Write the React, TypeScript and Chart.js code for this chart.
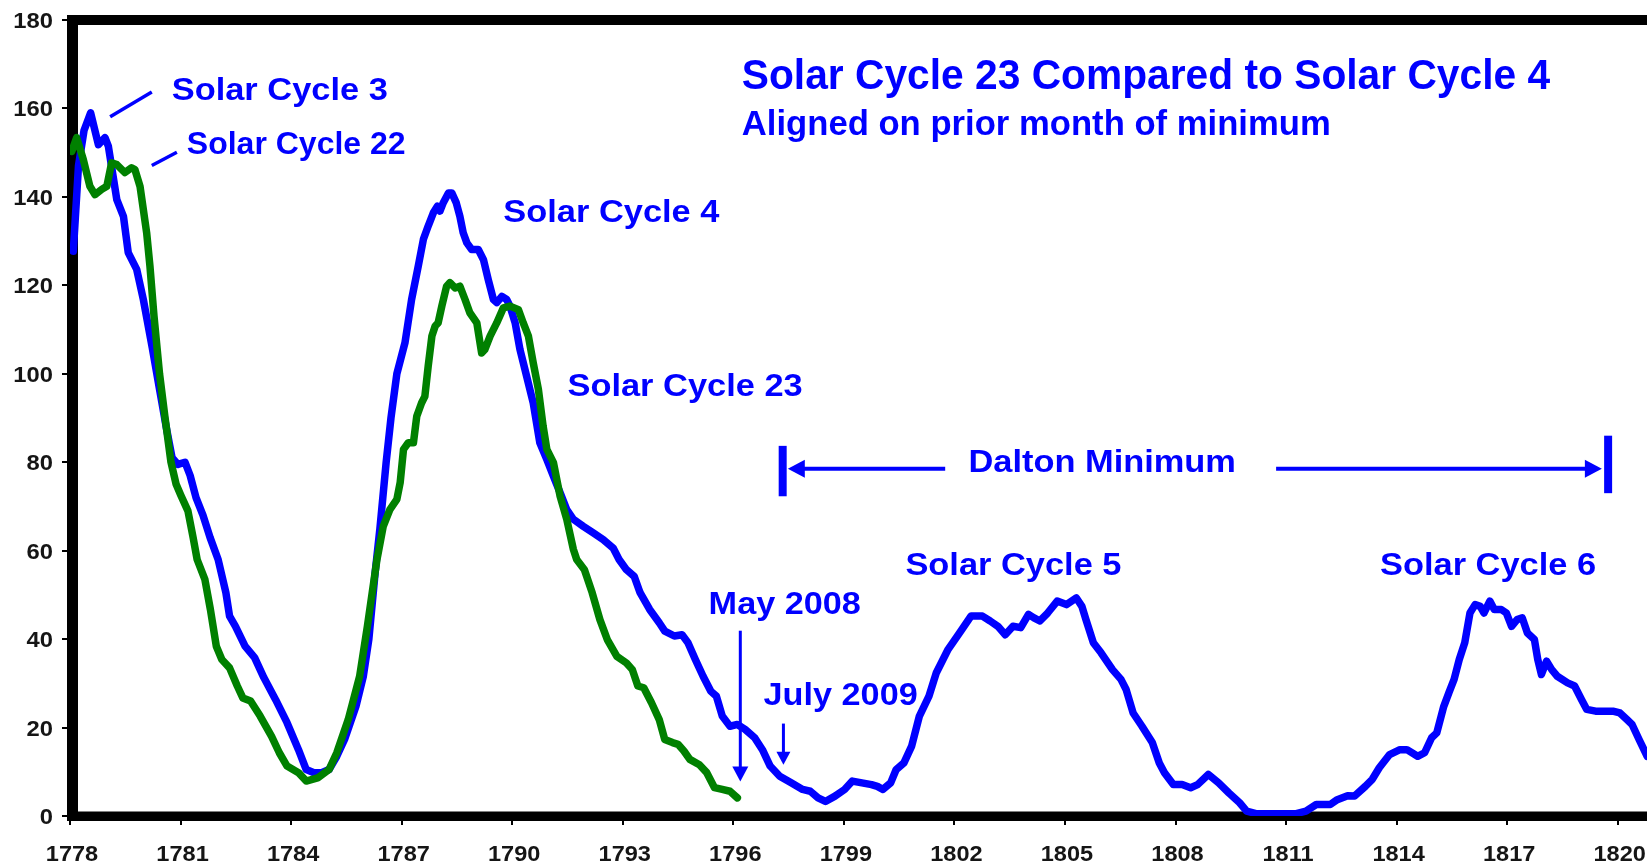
import React, { useEffect, useRef } from "react";
import { Chart, registerables } from "chart.js";

Chart.register(...registerables);

// ---- Data ----
const blueYears = [
  1778.09, 1778.23, 1778.38, 1778.56, 1778.77, 1778.95, 1779.04, 1779.27, 1779.45, 1779.58,
  1779.81, 1779.99, 1780.23, 1780.44, 1780.61, 1780.77, 1780.93, 1781.12, 1781.26, 1781.42,
  1781.61, 1781.8, 1782.02, 1782.23, 1782.33, 1782.49, 1782.75, 1783.01, 1783.26, 1783.58,
  1783.89, 1784.2, 1784.41, 1784.62, 1784.83, 1785.03, 1785.24, 1785.45, 1785.76, 1785.96,
  1786.11, 1786.28, 1786.41, 1786.58, 1786.71, 1786.87, 1787.09, 1787.27, 1787.45, 1787.59,
  1787.72, 1787.86, 1787.97, 1788.04, 1788.13, 1788.27, 1788.36, 1788.48, 1788.58, 1788.67,
  1788.77, 1788.9, 1789.08, 1789.22, 1789.35, 1789.49, 1789.58, 1789.72, 1789.85, 1789.94,
  1790.08, 1790.21, 1790.39, 1790.57, 1790.75, 1790.94, 1791.12, 1791.3, 1791.48, 1791.66,
  1791.93, 1792.2, 1792.47, 1792.74, 1792.9, 1793.1, 1793.31, 1793.47, 1793.73, 1793.99,
  1794.14, 1794.4, 1794.61, 1794.77, 1794.97, 1795.18, 1795.39, 1795.54, 1795.7, 1795.91,
  1796.11, 1796.32, 1796.58, 1796.79, 1797.0, 1797.26, 1797.57, 1797.88, 1798.09, 1798.3,
  1798.5, 1798.76, 1799.02, 1799.23, 1799.49, 1799.75, 1799.91, 1800.06, 1800.27, 1800.42,
  1800.63, 1800.84, 1801.05, 1801.31, 1801.51, 1801.83, 1802.14, 1802.45, 1802.76, 1802.97,
  1803.18, 1803.38, 1803.59, 1803.8, 1804.01, 1804.16, 1804.32, 1804.53, 1804.79, 1805.04,
  1805.31, 1805.46, 1805.57, 1805.77, 1805.98, 1806.29, 1806.52, 1806.66, 1806.85, 1807.09,
  1807.37, 1807.56, 1807.7, 1807.94, 1808.18, 1808.41, 1808.6, 1808.89, 1809.17, 1809.45,
  1809.74, 1809.93, 1810.21, 1810.69, 1811.25, 1811.54, 1811.82, 1812.2, 1812.39, 1812.67,
  1812.86, 1813.15, 1813.34, 1813.53, 1813.81, 1814.09, 1814.28, 1814.57, 1814.76, 1814.95,
  1815.09, 1815.28, 1815.42, 1815.56, 1815.7, 1815.85, 1815.99, 1816.13, 1816.27, 1816.37,
  1816.53, 1816.65, 1816.84, 1816.98, 1817.12, 1817.27, 1817.41, 1817.55, 1817.74, 1817.83,
  1817.93, 1818.07, 1818.21, 1818.36, 1818.64, 1818.83, 1819.02, 1819.16, 1819.4, 1819.58,
  1819.87, 1820.06, 1820.25, 1820.39, 1820.58, 1820.8, 1821.0,
];
const blueValues = [
  127.7, 147, 155, 159, 151.8, 153.4, 151.5, 139.4, 135.6, 127.4,
  123.6, 116.8, 106, 96, 88, 81, 79.5, 80, 77, 72,
  68, 63, 58, 50.5, 45.2, 42.9, 38.4, 35.8, 31.3, 26.3,
  21.1, 15, 10.5, 9.8, 9.8, 10.5, 13.5, 17.3, 24.8, 31.6,
  40, 55, 65, 80, 90, 100, 107, 116.8, 124.3, 130.4,
  133.4, 136.4, 137.9, 136.8, 138.7, 140.9, 140.9, 138.7, 135.6, 131.9,
  129.6, 128.1, 128.1, 125.8, 121.3, 116.8, 116.1, 117.5, 116.8, 115.3,
  111.5, 105.5, 99.5, 93.4, 84.4, 80.6, 76.8, 73.1, 69.3, 67.1,
  65.5, 64, 62.5, 60.6, 58, 55.7, 54.2, 50.5, 46.7, 43.7,
  41.8, 40.7, 41, 39.2, 35.4, 31.6, 28.2, 27.1, 22.6, 20.3,
  20.7, 19.6, 17.7, 15, 11.3, 9, 7.5, 6, 5.6, 4.1,
  3.3, 4.5, 6, 7.9, 7.5, 7.1, 6.7, 6, 7.5, 10.5,
  12, 15.8, 22.6, 27.1, 32.4, 37.7, 41.4, 45.2, 45.2, 44.1,
  42.9, 41, 42.9, 42.6, 45.6, 44.8, 44.1, 45.9, 48.6, 47.8,
  49.3, 47.4, 44.4, 39.2, 36.9, 33.1, 30.9, 28.6, 23.3, 20.3,
  16.6, 12, 9.8, 7.1, 7.1, 6.4, 7.1, 9.4, 7.5, 5.2,
  3, 1.1, 0.5, 0.5, 0.5, 1.1, 2.6, 2.6, 3.7, 4.6,
  4.5, 6.7, 8.3, 10.9, 13.9, 15, 15, 13.5, 14.3, 17.7,
  18.8, 24.8, 27.9, 30.9, 35.4, 39.2, 45.9, 47.8, 47.4, 45.9,
  48.6, 46.7, 46.7, 45.9, 42.9, 44.4, 44.8, 41.4, 39.9, 35.4,
  32, 35, 33.1, 31.6, 30.1, 29.4, 26.3, 24.1, 23.7, 23.7,
  23.7, 23.3, 21.8, 20.7, 17.3, 13.5, 10,
];

const greenYears = [
  1778.05, 1778.18, 1778.36, 1778.54, 1778.68, 1778.86, 1779.0, 1779.13, 1779.27, 1779.49,
  1779.67, 1779.76, 1779.9, 1780.08, 1780.17, 1780.28, 1780.43, 1780.58, 1780.74, 1780.88,
  1781.01, 1781.2, 1781.34, 1781.45, 1781.66, 1781.81, 1781.97, 1782.12, 1782.33, 1782.54,
  1782.69, 1782.9, 1783.16, 1783.47, 1783.68, 1783.89, 1784.2, 1784.41, 1784.72, 1785.03,
  1785.24, 1785.55, 1785.86, 1786.07, 1786.33, 1786.5, 1786.68, 1786.87, 1786.96, 1787.05,
  1787.18, 1787.32, 1787.41, 1787.54, 1787.63, 1787.72, 1787.82, 1787.91, 1787.99, 1788.09,
  1788.22, 1788.31, 1788.45, 1788.58, 1788.72, 1788.85, 1789.04, 1789.17, 1789.26, 1789.4,
  1789.58, 1789.76, 1789.94, 1790.17, 1790.3, 1790.44, 1790.57, 1790.71, 1790.84, 1790.94,
  1791.12, 1791.3, 1791.48, 1791.66, 1791.75, 1791.96, 1792.17, 1792.38, 1792.58, 1792.84,
  1793.1, 1793.26, 1793.41, 1793.57, 1793.78, 1793.99, 1794.14, 1794.35, 1794.5, 1794.66,
  1794.82, 1795.08, 1795.28, 1795.49, 1795.7, 1795.91, 1796.11,
];
const greenValues = [
  150.3, 153.4, 148.5, 142.4, 140.5, 141.7, 142.4, 147.7, 147.3, 145.5,
  146.6, 146.2, 142.4, 131.9, 124.3, 113, 100, 90, 80, 75,
  72.5, 69, 63, 58, 53.5, 46.7, 38.4, 35.4, 33.5, 29.4,
  26.7, 26, 22.6, 18, 14.3, 11.3, 9.8, 7.9, 8.6, 10.5,
  14.3, 21.8, 31.6, 42.9, 58, 65.5, 69.3, 71.6, 75.4, 82.9,
  84.4, 84.4, 90.4, 93.4, 94.9, 101.7, 108.5, 110.8, 111.5, 115.3,
  119.8, 120.6, 119.4, 119.8, 116.8, 113.8, 111.5, 104.7, 105.5, 108.5,
  111.5, 114.9, 115.3, 114.5, 111.5, 108.5, 102.5, 96.5, 88.1, 82.9,
  79.9, 72.3, 67.1, 60.3, 58, 55.7, 50.5, 44.4, 39.9, 36.1,
  34.6, 33.1, 29.4, 29, 25.6, 21.8, 17.3, 16.6, 16.2, 14.7,
  12.8, 11.6, 9.8, 6.4, 6, 5.6, 4.1,
];

const xTickYears = [1778, 1781, 1784, 1787, 1790, 1793, 1796, 1799, 1802, 1805, 1808, 1811, 1814, 1817, 1820];
const yTickValues = [0, 20, 40, 60, 80, 100, 120, 140, 160, 180];

// ---- Annotation texts (anchored in data coordinates) ----
const TITLE = "Solar Cycle 23 Compared to Solar Cycle 4";
const SUBTITLE = "Aligned on prior month of minimum";
const textNotes = [
  { text: TITLE, year: 1796.23, value: 164.5, size: 42, sx: 0.97 },
  { text: SUBTITLE, year: 1796.23, value: 153.9, size: 35, sx: 0.99 },
  { text: "Solar Cycle 3", year: 1780.76, value: 161.8, size: 32, sx: 1.075 },
  { text: "Solar Cycle 22", year: 1781.17, value: 149.6, size: 32, sx: 1.0 },
  { text: "Solar Cycle 4", year: 1789.76, value: 134.3, size: 32, sx: 1.075 },
  { text: "Solar Cycle 23", year: 1791.5, value: 94.9, size: 32, sx: 1.075 },
  { text: "Dalton Minimum", year: 1802.38, value: 77.7, size: 32, sx: 1.075 },
  { text: "Solar Cycle 5", year: 1800.67, value: 54.4, size: 32, sx: 1.075 },
  { text: "Solar Cycle 6", year: 1813.55, value: 54.4, size: 32, sx: 1.075 },
  { text: "May 2008", year: 1795.33, value: 45.6, size: 32, sx: 1.07 },
  { text: "July 2009", year: 1796.82, value: 25.2, size: 32, sx: 1.07 },
];

const BLUE = "#0000FF";
const GREEN = "#008000";
const FONT = '"Liberation Sans", Arial, sans-serif';

function stretchedText(ctx: any, text: string, x: number, y: number, size: number, sx: number, align: string, color: string) {
  ctx.save();
  ctx.font = `bold ${size}px ${FONT}`;
  ctx.fillStyle = color;
  ctx.textBaseline = "alphabetic";
  ctx.textAlign = align;
  ctx.translate(x, y);
  ctx.scale(sx, 1);
  ctx.fillText(text, 0, 0);
  ctx.restore();
}

function line(ctx: any, x1: number, y1: number, x2: number, y2: number, w: number) {
  ctx.lineWidth = w;
  ctx.beginPath();
  ctx.moveTo(x1, y1);
  ctx.lineTo(x2, y2);
  ctx.stroke();
}

function head(ctx: any, tx: number, ty: number, dx: number, dy: number, len: number, half: number) {
  const bx = tx - dx * len;
  const by = ty - dy * len;
  const px = -dy;
  const py = dx;
  ctx.beginPath();
  ctx.moveTo(tx, ty);
  ctx.lineTo(bx + px * half, by + py * half);
  ctx.lineTo(bx - px * half, by - py * half);
  ctx.closePath();
  ctx.fill();
}

const overlayPlugin = {
  id: "overlay",
  beforeDatasetsDraw(chart: any) {
    const { ctx, chartArea: ca } = chart;
    ctx.save();
    ctx.fillStyle = "#000";
    const w = ca.right - ca.left + 20;
    ctx.fillRect(ca.left - 3, ca.top - 5, w, 10);
    ctx.fillRect(ca.left - 3, ca.top - 5, 11, ca.bottom - ca.top + 10);
    ctx.fillRect(ca.left - 3, ca.bottom - 4.5, w, 9.5);
    ctx.restore();
  },
  afterDraw(chart: any) {
    const { ctx, chartArea: ca } = chart;
    const xs = chart.scales.x;
    const ys = chart.scales.y;
    const X = (v: number) => xs.getPixelForValue(v);
    const Y = (v: number) => ys.getPixelForValue(v);

    yTickValues.forEach((v) => {
      stretchedText(ctx, String(v), ca.left - 17, Y(v) + 8, 22, 1.08, "right", "#151515");
    });
    xTickYears.forEach((v) => {
      stretchedText(ctx, String(v), X(v) + 2, 861, 22, 1.07, "center", "#151515");
    });

    textNotes.forEach((t) => {
      stretchedText(ctx, t.text, X(t.year), Y(t.value), t.size, t.sx, "left", BLUE);
    });

    ctx.save();
    ctx.strokeStyle = BLUE;
    ctx.fillStyle = BLUE;
    ctx.lineCap = "butt";

    line(ctx, X(1779.09), Y(158.1), X(1780.22), Y(163.7), 3.5);
    line(ctx, X(1780.22), Y(147.1), X(1780.9), Y(150.1), 3.5);

    const mx = X(1796.19);
    line(ctx, mx, Y(41.9), mx, Y(7.8) - 12, 3);
    head(ctx, mx, Y(7.8), 0, 1, 15, 8);

    const jx = X(1797.36);
    line(ctx, jx, Y(20.9), jx, Y(11.6) - 10, 3);
    head(ctx, jx, Y(11.6), 0, 1, 13, 7);

    const dy = Y(78.5);
    line(ctx, X(1797.34), Y(83.7), X(1797.34), Y(72.3), 8);
    line(ctx, X(1797.48) + 14, dy, X(1801.75), dy, 4);
    head(ctx, X(1797.48), dy, -1, 0, 17, 9);
    line(ctx, X(1810.73), dy, X(1819.57) - 14, dy, 4);
    head(ctx, X(1819.57), dy, 1, 0, 17, 9);
    line(ctx, X(1819.74), Y(86.0), X(1819.74), Y(73.0), 8);
    ctx.restore();
  },
};

export default function App() {
  const canvasRef = useRef<HTMLCanvasElement | null>(null);

  useEffect(() => {
    document.body.style.margin = "0";
    const canvas = canvasRef.current;
    if (!canvas) return;
    const toPoints = (xs: number[], vs: number[]) => xs.map((x, i) => ({ x, y: vs[i] }));
    const chart = new Chart(canvas, {
      type: "line",
      data: {
        datasets: [
          {
            label: "Solar Cycle 22-23",
            data: toPoints(greenYears, greenValues),
            borderColor: GREEN,
            borderWidth: 7.5,
            pointRadius: 0,
            tension: 0,
            borderJoinStyle: "round",
            borderCapStyle: "round",
            fill: false,
          },
          {
            label: "Solar Cycles 3-6",
            data: toPoints(blueYears, blueValues),
            borderColor: BLUE,
            borderWidth: 7.5,
            pointRadius: 0,
            tension: 0,
            borderJoinStyle: "round",
            borderCapStyle: "round",
            fill: false,
          },
        ],
      },
      options: {
        animation: false,
        responsive: false,
        devicePixelRatio: 1,
        parsing: false,
        layout: { padding: { top: 20, left: 0, right: 0, bottom: 0 } },
        plugins: {
          legend: { display: false },
          tooltip: { enabled: false },
          title: { display: false },
        },
        events: [],
        scales: {
          x: {
            type: "linear",
            min: 1778,
            max: 1820.795,
            afterBuildTicks: (s: any) => {
              s.ticks = xTickYears.map((v) => ({ value: v }));
            },
            afterFit: (s: any) => {
              s.height = 50;
            },
            ticks: { display: false },
            grid: { drawOnChartArea: false, drawTicks: true, tickLength: 9, color: "#000", lineWidth: 2 },
            border: { display: false },
          },
          y: {
            type: "linear",
            min: 0,
            max: 180,
            afterBuildTicks: (s: any) => {
              s.ticks = yTickValues.map((v) => ({ value: v }));
            },
            afterFit: (s: any) => {
              s.width = 70;
            },
            ticks: { display: false },
            grid: { drawOnChartArea: false, drawTicks: true, tickLength: 8, color: "#000", lineWidth: 2 },
            border: { display: false },
          },
        },
      } as any,
      plugins: [overlayPlugin as any],
    });
    return () => chart.destroy();
  }, []);

  return (
    <div style={{ position: "absolute", left: 0, top: 0, width: 1647, height: 866, background: "#fff" }}>
      <canvas ref={canvasRef} width={1647} height={866} style={{ display: "block" }} />
    </div>
  );
}
